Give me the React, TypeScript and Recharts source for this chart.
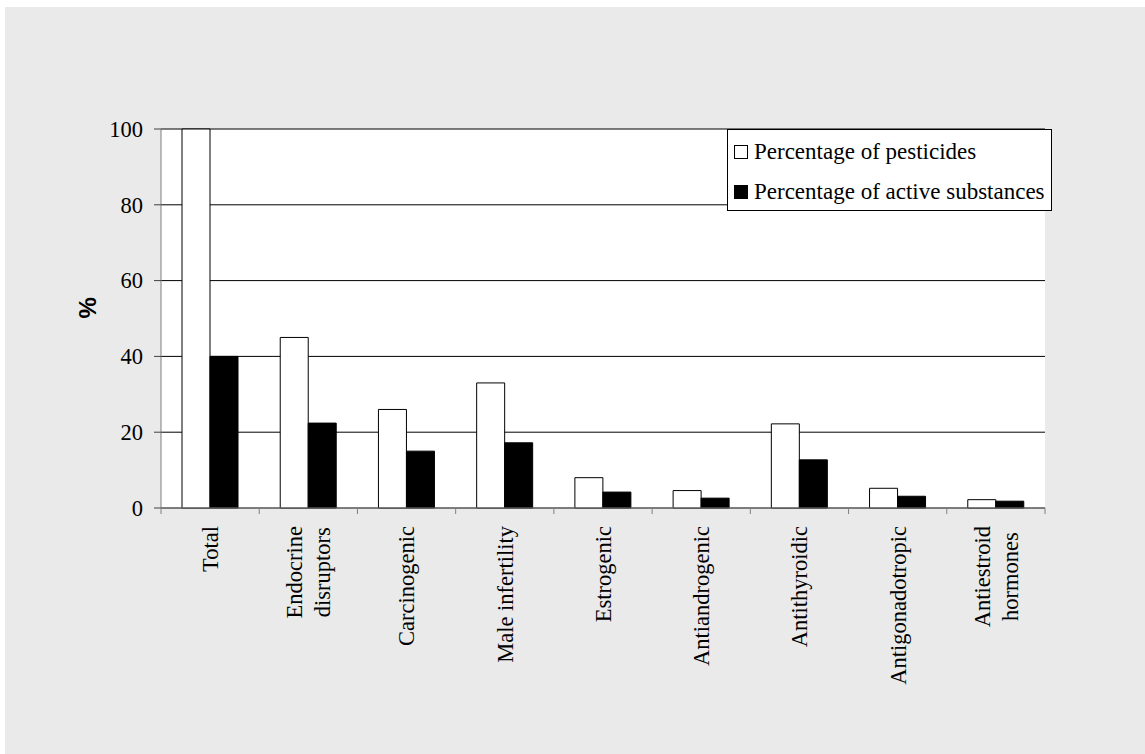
import React from 'react';
import {
  BarChart,
  Bar,
  XAxis,
  YAxis,
  CartesianGrid,
  Legend,
} from 'recharts';

const categories = [
  'Total',
  'Endocrine\ndisruptors',
  'Carcinogenic',
  'Male infertility',
  'Estrogenic',
  'Antiandrogenic',
  'Antithyroidic',
  'Antigonadotropic',
  'Antiestroid\nhormones',
];
const pesticides = [100, 45, 26, 33, 8, 4.6, 22.2, 5.2, 2.2];
const activeSubstances = [40, 22.4, 15, 17.2, 4.2, 2.6, 12.7, 3.1, 1.8];
const yTicks = [0, 20, 40, 60, 80, 100];

const data = categories.map((name, i) => ({
  name,
  pesticides: pesticides[i],
  active: activeSubstances[i],
}));

const W = 1145;
const H = 754;
const PLOT_LEFT = 161;
const PLOT_RIGHT = 1045;
const PLOT_TOP = 129;
const PLOT_BOTTOM = 508;
const BAND = (PLOT_RIGHT - PLOT_LEFT) / categories.length;
const SERIF = '"Liberation Serif", "Times New Roman", serif';
const FONT_SIZE = 22.5;
const AXIS_GRAY = '#7f7f7f';

let canvasCtx: CanvasRenderingContext2D | null = null;
const textWidth = (s: string) => {
  if (!canvasCtx) canvasCtx = document.createElement('canvas').getContext('2d');
  if (!canvasCtx) return s.length * 10;
  canvasCtx.font = `${FONT_SIZE}px ${SERIF}`;
  return canvasCtx.measureText(s).width;
};

const CategoryTick = (props: any) => {
  const { x, y, payload, index } = props;
  const lines = String(payload.value).split('\n');
  const maxW = Math.max(...lines.map(textWidth));
  const lineH = 28;
  const top = y + 18;
  return (
    <g>
      <line x1={x - BAND / 2} x2={x - BAND / 2} y1={y} y2={y + 6} stroke={AXIS_GRAY} />
      {index === categories.length - 1 && (
        <line x1={x + BAND / 2} x2={x + BAND / 2} y1={y} y2={y + 6} stroke={AXIS_GRAY} />
      )}
      <g transform={`translate(${x},${top}) rotate(-90)`}>
        {lines.map((ln, i) => (
          <text
            key={i}
            x={-maxW / 2}
            y={(i - (lines.length - 1) / 2) * lineH}
            dy="0.35em"
            textAnchor="middle"
            fill="#000"
            style={{ fontFamily: SERIF, fontSize: FONT_SIZE }}
          >
            {ln}
          </text>
        ))}
      </g>
    </g>
  );
};

const ValueTick = (props: any) => {
  const { x, y, payload } = props;
  return (
    <text
      x={x}
      y={y}
      dy="0.35em"
      textAnchor="end"
      fill="#000"
      style={{ fontFamily: SERIF, fontSize: FONT_SIZE }}
    >
      {payload.value}
    </text>
  );
};

const LegendBox = () => (
  <div
    style={{
      width: 325,
      height: 82,
      boxSizing: 'border-box',
      border: '1px solid #000',
      background: '#fff',
      fontFamily: SERIF,
      fontSize: 23,
      color: '#000',
      padding: '2px 0 0 6px',
    }}
  >
    {[
      { label: 'Percentage of pesticides', fill: '#fff' },
      { label: 'Percentage of active substances', fill: '#000' },
    ].map((item) => (
      <div key={item.label} style={{ display: 'flex', alignItems: 'center', height: 40, whiteSpace: 'nowrap' }}>
        <span
          style={{
            display: 'inline-block',
            width: 14,
            height: 14,
            boxSizing: 'border-box',
            border: '1px solid #000',
            background: item.fill,
            marginRight: 6,
          }}
        />
        {item.label}
      </div>
    ))}
  </div>
);

export default function App() {
  return (
    <div style={{ position: 'absolute', left: 0, top: 0, width: W, height: H, background: '#fff', fontFamily: SERIF }}>
      <div style={{ position: 'absolute', left: 5, top: 7, right: 0, bottom: 0, background: '#eaeaea' }} />
      <div style={{ position: 'absolute', left: 0, top: 0 }}>
        <BarChart
          width={W}
          height={H}
          data={data}
          margin={{ top: PLOT_TOP, right: W - PLOT_RIGHT, left: PLOT_LEFT - 60, bottom: 0 }}
          barSize={28}
          barGap={0}
        >
          <CartesianGrid vertical={false} stroke="#000" fill="#fff" fillOpacity={1} />
          <XAxis
            dataKey="name"
            interval={0}
            height={H - PLOT_BOTTOM}
            tickLine={false}
            tickSize={0}
            tickMargin={0}
            axisLine={{ stroke: AXIS_GRAY }}
            tick={<CategoryTick />}
          />
          <YAxis
            width={60}
            domain={[0, 100]}
            ticks={yTicks}
            interval={0}
            tickSize={7}
            tickMargin={11}
            axisLine={{ stroke: AXIS_GRAY }}
            tickLine={{ stroke: '#404040' }}
            tick={<ValueTick />}
            label={{
              value: '%',
              angle: -90,
              position: 'insideLeft',
              offset: 0,
              dx: -14,
              style: { fontFamily: '"Liberation Sans", Arial, sans-serif', fontWeight: 'bold', fontSize: 24, fill: '#000' },
            }}
          />
          <YAxis
            yAxisId="right"
            orientation="right"
            width={0}
            domain={[0, 100]}
            tick={false}
            tickLine={false}
            axisLine={{ stroke: AXIS_GRAY }}
          />
          <Legend
            layout="vertical"
            align="center"
            verticalAlign="middle"
            content={<LegendBox />}
            wrapperStyle={{ left: 727, top: 129, width: 325, height: 82, bottom: 'auto', right: 'auto' }}
          />
          <Bar dataKey="pesticides" fill="#fff" stroke="#000" strokeWidth={1} isAnimationActive={false} />
          <Bar dataKey="active" fill="#000" stroke="#000" strokeWidth={1} isAnimationActive={false} />
        </BarChart>
      </div>
    </div>
  );
}
